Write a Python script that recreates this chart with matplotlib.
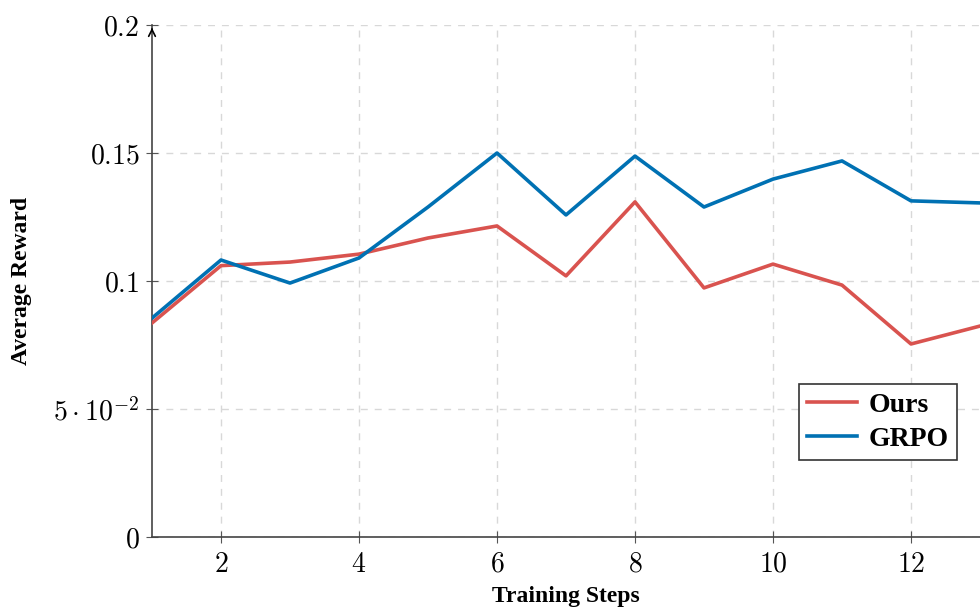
import numpy as np
import matplotlib
matplotlib.use("Agg")
import matplotlib.pyplot as plt

plt.rcParams['mathtext.fontset'] = 'cm'

# reward curves per training step
steps = [1, 2, 3, 4, 5, 6, 7, 8, 9, 10, 11, 12, 13]
ours = [0.0836, 0.1060, 0.1074, 0.1105, 0.1168, 0.1215, 0.1020, 0.1309, 0.0973, 0.1066, 0.0984, 0.0754, 0.0824]
grpo = [0.0855, 0.1082, 0.0992, 0.1090, 0.1289, 0.1500, 0.1258, 0.1488, 0.1289, 0.1398, 0.1469, 0.1313, 0.1305]

xticks = [2, 4, 6, 8, 10, 12]
yticks = [0, 0.05, 0.1, 0.15, 0.2]
ytick_labels = [r'$0$', r'$5\cdot10^{-2}$', r'$0.1$', r'$0.15$', r'$0.2$']

fig = plt.figure(figsize=(9.8, 6.09), dpi=100)
ax = fig.add_axes([152/980, 72/609, 1 - 152/980, 512/609])

ax.plot(steps, ours, color='#d9534f', lw=2.6, label='Ours', zorder=3)
ax.plot(steps, grpo, color='#0071b3', lw=2.6, label='GRPO', zorder=4)

ax.set_xlim(1, 13)
ax.set_ylim(0, 0.2)
ax.set_xticks(xticks)
ax.set_xticklabels([r'$%d$' % t for t in xticks], fontsize=20)
ax.set_yticks(yticks)
ax.set_yticklabels(ytick_labels, fontsize=20)
ax.tick_params(direction='inout', length=8, width=0.8, color='#555555', pad=5)

ax.grid(True, color='#d8d8d8', ls=(0, (5, 5)), lw=1)
ax.set_axisbelow(True)

for s in ['top', 'right']:
    ax.spines[s].set_visible(False)
for s in ['left', 'bottom']:
    ax.spines[s].set_color('#444444')
    ax.spines[s].set_linewidth(1.2)

# small arrow tip on the y axis
ax.annotate('', xy=(1, 0.2), xytext=(1, 0.197),
            arrowprops=dict(arrowstyle='->', color='black', lw=1.2, mutation_scale=12),
            annotation_clip=False)

ax.set_xlabel('Training Steps', fontsize=17, fontweight='bold', family='Liberation Serif', labelpad=6)
ax.set_ylabel('Average Reward', fontsize=17, fontweight='bold', family='Liberation Serif', labelpad=15)

leg = ax.legend(loc='lower right',
                prop={'family': 'Liberation Serif', 'weight': 'bold', 'size': 20},
                frameon=True, fancybox=False, edgecolor='#333333', handlelength=1.8,
                borderpad=0.3, labelspacing=0.3, handletextpad=0.4, borderaxespad=0,
                framealpha=1)
leg.get_frame().set_linewidth(1.2)
leg.set_bbox_to_anchor(((957 - 152) / (980 - 152), (537 - 460) / 512), transform=ax.transAxes)

fig.savefig('out.png', dpi=100)
